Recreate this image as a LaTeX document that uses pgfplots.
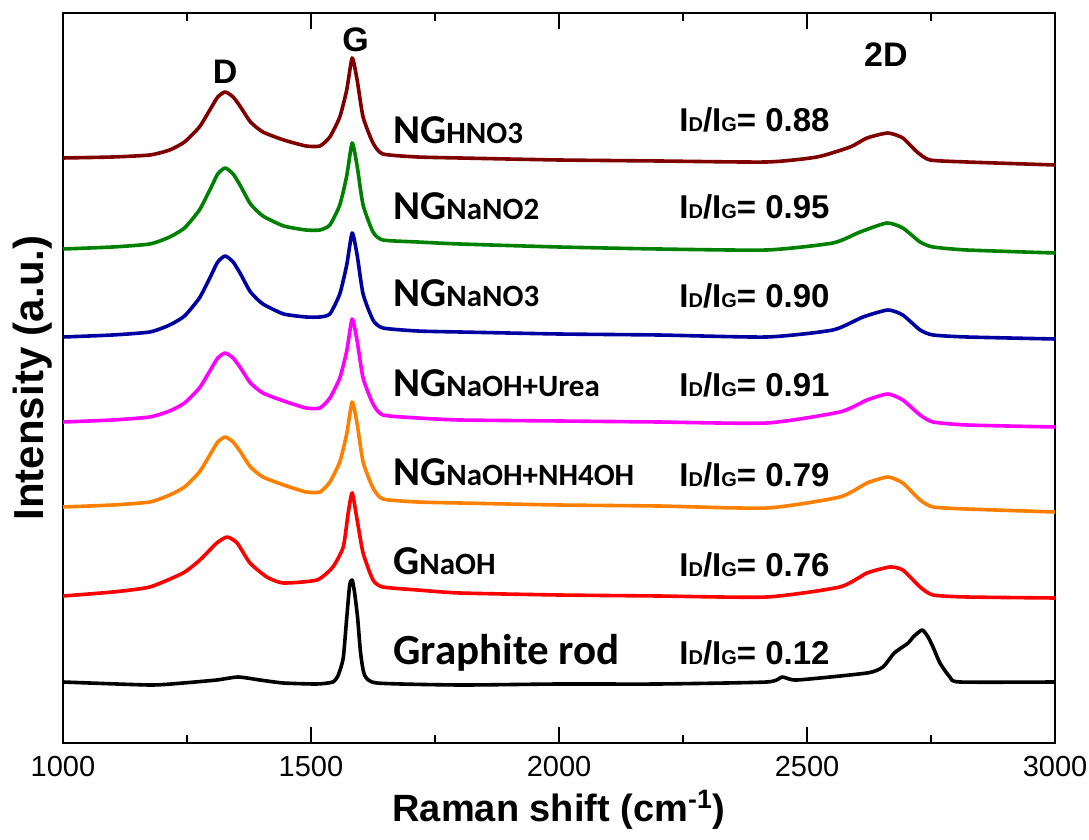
\documentclass[border=0pt]{standalone}
\usepackage{fontspec}
\setmainfont{Liberation Sans}
\newfontfamily\calib{Carlito}
\usepackage{pgfplots}
\pgfplotsset{compat=1.18}
\definecolor{cHNO}{RGB}{128,0,0}
\definecolor{cNaNOtwo}{RGB}{0,128,0}
\definecolor{cNaNOthree}{RGB}{0,0,160}
\definecolor{cUrea}{RGB}{255,0,255}
\definecolor{cNH}{RGB}{255,128,0}
\definecolor{cGNaOH}{RGB}{255,0,0}
\newcommand{\lbig}{\fontsize{20.5}{22}\selectfont}
\newcommand{\lsml}{\fontsize{15.5}{17}\selectfont}
\newcommand{\idig}[1]{\bfseries\fontsize{16.5}{18}\selectfont I{\fontsize{10}{11}\selectfont D}/I{\fontsize{10}{11}\selectfont G}= #1}
\begin{document}
\begin{tikzpicture}
\begin{axis}[name=ax, scale only axis, width=496pt, height=365pt,
  xmin=1000, xmax=3000, ymin=0, ymax=730,
  xtick={1000,1500,2000,2500,3000}, minor xtick={1250,1750,2250,2750},
  ytick=\empty, tick align=inside, xtick pos=both,
  major tick length=8pt, minor tick length=4pt,
  axis line style={line width=1pt},
  every tick/.style={line width=1pt, black},
  /pgf/number format/assume math mode=true,
  /pgf/number format/set thousands separator={},
  xticklabel style={font=\fontsize{14.5}{15}\selectfont, yshift=-3pt},
  xlabel={\bfseries\fontsize{19}{20}\selectfont Raman shift (cm\textsuperscript{-1})},
  ylabel={\bfseries\fontsize{21}{22}\selectfont Intensity (a.u.)},
  xlabel style={yshift=0pt},
  ylabel style={yshift=2pt},
  every axis plot/.append style={line width=1.8pt, line join=round, smooth, tension=0.35},
]
% NG HNO3
\addplot[cHNO] coordinates {(1000,585)(1100,586)(1175,588)(1215,593)(1245,601)(1275,616)(1296,633)(1312,646)(1327,651)(1343,646)(1358,636)(1378,621)(1403,611)(1445,603)(1490,597)(1518,597)(1538,606)(1558,626)(1572,653)(1583,685)(1593,663)(1605,626)(1625,600)(1645,589)(1715,586)(1800,585)(2000,583)(2200,582)(2419,581)(2520,586)(2587,596)(2621,605)(2663,610)(2693,605)(2722,591)(2748,583)(2822,581)(3000,578)};
% NG NaNO2
\addplot[cNaNOtwo] coordinates {(1000,494)(1100,496)(1175,499)(1215,506)(1245,515)(1275,533)(1296,553)(1312,569)(1327,575)(1343,569)(1358,557)(1378,539)(1403,527)(1445,517)(1490,513)(1518,513)(1538,518)(1558,538)(1572,567)(1583,600)(1593,577)(1605,538)(1625,511)(1645,503)(1715,501)(1800,499)(2000,496)(2200,494)(2419,493)(2552,500)(2607,511)(2661,520)(2693,515)(2728,501)(2754,496)(2822,493)(3000,490)};
% NG NaNO3
\addplot[cNaNOthree] coordinates {(1000,406)(1100,408)(1175,411)(1215,418)(1245,427)(1275,445)(1296,465)(1312,481)(1327,487)(1343,481)(1358,469)(1378,451)(1403,439)(1445,429)(1490,426)(1518,426)(1538,429)(1558,449)(1572,478)(1583,510)(1593,488)(1605,449)(1625,423)(1645,415)(1715,412)(1800,411)(2000,409)(2200,408)(2419,406)(2552,413)(2613,426)(2663,433)(2693,428)(2728,413)(2754,408)(2822,406)(3000,404)};
% NG NaOH+Urea
\addplot[cUrea] coordinates {(1000,321)(1100,323)(1175,326)(1215,332)(1245,340)(1275,355)(1296,372)(1312,385)(1327,390)(1343,385)(1358,375)(1378,360)(1403,350)(1445,342)(1490,335)(1518,335)(1538,345)(1558,365)(1572,392)(1583,424)(1593,402)(1605,365)(1625,339)(1645,328)(1715,325)(1800,323)(2000,322)(2200,321)(2419,320)(2566,331)(2621,343)(2663,349)(2693,343)(2728,328)(2754,321)(2822,318)(3000,316)};
% NG NaOH+NH4OH
\addplot[cNH] coordinates {(1000,236)(1100,238)(1175,241)(1215,248)(1245,256)(1275,271)(1296,288)(1312,301)(1327,306)(1343,301)(1358,291)(1378,276)(1403,266)(1445,258)(1490,251)(1518,251)(1538,261)(1558,281)(1572,309)(1583,341)(1593,319)(1605,281)(1625,255)(1645,244)(1715,241)(1800,240)(2000,238)(2200,237)(2419,235)(2566,246)(2621,260)(2663,266)(2693,260)(2728,243)(2754,236)(2822,234)(3000,231)};
% G NaOH
\addplot[cGNaOH] coordinates {(1000,147)(1100,151)(1175,156)(1242,170)(1276,183)(1310,200)(1331,206)(1351,200)(1377,180)(1411,166)(1444,160)(1512,163)(1544,176)(1565,196)(1575,230)(1583,250)(1593,223)(1605,190)(1625,163)(1645,156)(1715,153)(1800,150)(2000,148)(2200,147)(2419,146)(2566,156)(2621,170)(2667,176)(2693,173)(2728,156)(2754,148)(2822,146)(3000,145)};
% Graphite rod
\addplot[black] coordinates {(1000,61)(1175,58)(1242,60)(1310,63)(1353,66)(1397,63)(1444,60)(1512,59)(1544,61)(1555,68)(1565,85)(1572,125)(1578,158)(1583,163)(1588,150)(1594,125)(1600,90)(1608,68)(1633,60)(1800,58)(2000,59)(2200,59)(2419,61)(2450,66)(2480,63)(2621,70)(2653,76)(2676,90)(2704,100)(2714,106)(2732,113)(2744,106)(2754,96)(2768,80)(2788,66)(2808,61)(3000,61)};
% peak labels
\node[font=\bfseries\fontsize{17}{18}\selectfont] at (axis cs:1327,671) {D};
\node[font=\bfseries\fontsize{17}{18}\selectfont] at (axis cs:1590,703) {G};
\node[font=\bfseries\fontsize{17}{18}\selectfont] at (axis cs:2659,688) {2D};
% sample labels
\node[anchor=base west, inner sep=0pt] at (axis cs:1665,599) {\calib\bfseries{\lbig NG}{\lsml HNO3}};
\node[anchor=base west, inner sep=0pt] at (axis cs:1665,523) {\calib\bfseries{\lbig NG}{\lsml NaNO2}};
\node[anchor=base west, inner sep=0pt] at (axis cs:1665,436) {\calib\bfseries{\lbig NG}{\lsml NaNO3}};
\node[anchor=base west, inner sep=0pt] at (axis cs:1665,346) {\calib\bfseries{\lbig NG}{\lsml NaOH+Urea}};
\node[anchor=base west, inner sep=0pt] at (axis cs:1665,257) {\calib\bfseries{\lbig NG}{\lsml NaOH+NH4OH}};
\node[anchor=base west, inner sep=0pt] at (axis cs:1665,168) {\calib\bfseries{\lbig G}{\lsml NaOH}};
\node[anchor=base west, inner sep=0pt] at (axis cs:1665,78) {\calib\bfseries\fontsize{21.5}{23}\selectfont Graphite rod};
% ratio labels
\node[anchor=base west, inner sep=0pt] at (axis cs:2242,611) {\idig{0.88}};
\node[anchor=base west, inner sep=0pt] at (axis cs:2242,524) {\idig{0.95}};
\node[anchor=base west, inner sep=0pt] at (axis cs:2242,435) {\idig{0.90}};
\node[anchor=base west, inner sep=0pt] at (axis cs:2242,346) {\idig{0.91}};
\node[anchor=base west, inner sep=0pt] at (axis cs:2242,256) {\idig{0.79}};
\node[anchor=base west, inner sep=0pt] at (axis cs:2242,166) {\idig{0.76}};
\node[anchor=base west, inner sep=0pt] at (axis cs:2242,78) {\idig{0.12}};
\end{axis}
\pgfresetboundingbox
\path[use as bounding box] ([xshift=-31.5pt,yshift=-48pt]ax.south west) rectangle ([xshift=17pt,yshift=6.5pt]ax.north east);
\end{tikzpicture}
\end{document}
